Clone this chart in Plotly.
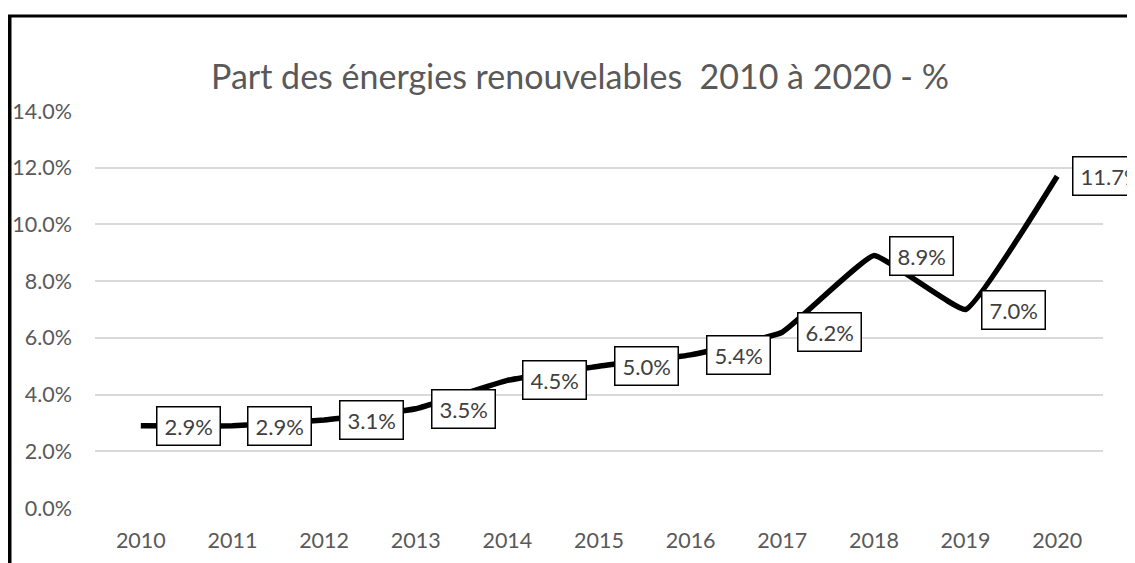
import plotly.graph_objects as go

years = ["2010", "2011", "2012", "2013", "2014", "2015", "2016", "2017", "2018", "2019", "2020"]
share = [0.029, 0.029, 0.031, 0.035, 0.045, 0.050, 0.054, 0.062, 0.089, 0.070, 0.117]
y_ticks = [0.0, 0.02, 0.04, 0.06, 0.08, 0.10, 0.12, 0.14]
title_text = "Part des énergies renouvelables  2010 à 2020 - %"

# page body has an 8px margin, so the figure is laid out 8px smaller
W, H = 1127, 555
OFF = 8
L, R, T, B = 87, 32, 103, 55
FONT = "Lato"
GREY = "#595959"

fig = go.Figure()
fig.add_trace(go.Scatter(
    x=years, y=share, mode="lines",
    line=dict(color="black", width=5.5, shape="spline", smoothing=0.3),
    hoverinfo="skip", showlegend=False,
))

for i, v in enumerate(share):
    fig.add_annotation(
        x=i, y=v, xref="x", yref="y", text=f"{v * 100:.1f}%",
        showarrow=False, xanchor="left", yanchor="middle", xshift=15,
        font=dict(family=FONT, size=22, color="#404040"),
        bgcolor="white", bordercolor="black", borderwidth=1.5, borderpad=7,
        height=23,
    )

pw = W - L - R
ph = H - T - B
def px_x(px):
    return (px - OFF - L) / pw
def px_y(py):
    return (H - B - (py - OFF)) / ph

# chart area border (left and top visible)
fig.add_shape(type="line", xref="paper", yref="paper",
              x0=px_x(9.5), x1=px_x(9.5), y0=px_y(15), y1=px_y(575),
              line=dict(color="black", width=4))
fig.add_shape(type="line", xref="paper", yref="paper",
              x0=px_x(8), x1=px_x(1145), y0=px_y(16), y1=px_y(16),
              line=dict(color="black", width=3))

fig.update_layout(
    width=W, height=H,
    margin=dict(l=L, r=R, t=T, b=B, autoexpand=False),
    paper_bgcolor="white", plot_bgcolor="white",
    title=dict(text=title_text, x=px_x(580), xref="paper", xanchor="center",
               y=1 - (77 - OFF) / H, yref="container", yanchor="middle",
               font=dict(family=FONT, size=34, color=GREY)),
    xaxis=dict(type="category", range=[-0.5, 10.5], showgrid=False,
               showline=False, zeroline=False, ticks="", automargin=False,
               tickfont=dict(family=FONT, size=21.5, color=GREY),
               ticklabelstandoff=17),
    yaxis=dict(range=[0, 0.14], tickvals=y_ticks, tickformat=".1%",
               showgrid=True, gridcolor="#d9d9d9", gridwidth=1.5,
               zeroline=False, showline=False, ticks="", automargin=False,
               tickfont=dict(family=FONT, size=21.5, color=GREY),
               ticklabelstandoff=22),
)

fig.write_html("out.html")
